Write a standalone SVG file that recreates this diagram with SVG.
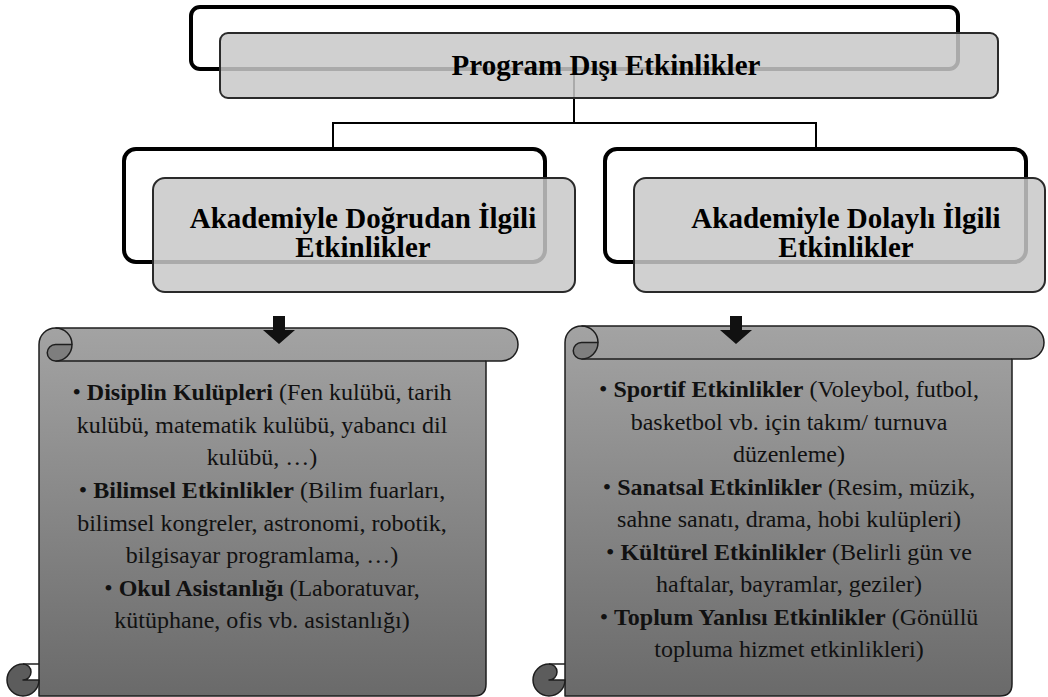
<svg xmlns="http://www.w3.org/2000/svg" width="1048" height="697" viewBox="0 0 1048 697">
<style>
.back{fill:#ffffff;stroke:#000;stroke-width:4}
.front{fill:#c8c8c8;fill-opacity:0.85;stroke:#2a2a2a;stroke-width:2}
.conn{fill:none;stroke:#000;stroke-width:2}
.head{font-family:"Liberation Serif","Times New Roman",serif;font-weight:bold;font-size:29px;fill:#000;text-anchor:middle}
.body{font-family:"Liberation Serif","Times New Roman",serif;font-size:24px;fill:#111;text-anchor:middle}
.b{font-weight:bold}
.sc{stroke:#1e1e1e;stroke-width:1.5;stroke-linejoin:round}
.scl{fill:none;stroke:#1e1e1e;stroke-width:1.5}
.arrow{fill:#111}
</style>
<defs>
<linearGradient id="g" x1="0" y1="0" x2="0" y2="1">
<stop offset="0" stop-color="#a3a3a3"/>
<stop offset="1" stop-color="#6a6a6a"/>
</linearGradient>
</defs>

<g id="connectors">
<path class="conn" d="M574,69 V123 M333,148 V123 H816 V148"/>
</g>

<g id="node-top">
<rect class="back" x="191" y="7" width="767" height="62" rx="9"/>
<rect class="front" x="220" y="33" width="778" height="65" rx="8"/>
<text class="head" x="606" y="75">Program Dışı Etkinlikler</text>
</g>

<g id="node-left">
<rect class="back" x="124" y="149" width="421" height="113" rx="12"/>
<rect class="front" x="153" y="178" width="422" height="114" rx="12"/>
<text class="head" x="363" y="228">Akademiyle Doğrudan İlgili</text>
<text class="head" x="363" y="257">Etkinlikler</text>
</g>

<g id="node-right">
<rect class="back" x="605" y="149" width="421" height="113" rx="12"/>
<rect class="front" x="634" y="178" width="411" height="114" rx="12"/>
<text class="head" x="846" y="228">Akademiyle Dolaylı İlgili</text>
<text class="head" x="846" y="257">Etkinlikler</text>
</g>

<g id="scroll-left">
<path class="sc" fill="url(#g)" d="M39,344.5 A16.5,16.5 0 0 1 55.5,328 L501.5,328 A16.5,16.5 0 0 1 501.5,361 L486,361 L486,684 Q486,696 474,696 L39,696 Z"/>
<path class="scl" d="M55.5,361 L486,361 M55.5,328 A16.5,16.5 0 0 1 72,344.5"/>
<path class="sc" fill="#7e7e7e" d="M55.5,344.5 L72,344.5 A16.5,16.5 0 0 1 55.5,361 A8.25,8.25 0 0 1 55.5,344.5 Z"/>
<path class="sc" fill="#5c5c5c" d="M23,664 A16,16 0 1 0 39,680 L23,680 A8,8 0 0 0 23,664 Z"/>
<path class="scl" d="M23,664 L39,664"/>
<path class="arrow" d="M273,316 H285 V330 H295 L279,344 L263,330 H273 Z"/>
<text class="body" x="262" y="400">• <tspan class="b">Disiplin Kulüpleri</tspan> (Fen kulübü, tarih</text>
<text class="body" x="262" y="432.5">kulübü, matematik kulübü, yabancı dil</text>
<text class="body" x="262" y="465">kulübü, …)</text>
<text class="body" x="262" y="498">• <tspan class="b">Bilimsel Etkinlikler</tspan> (Bilim fuarları,</text>
<text class="body" x="262" y="530.5">bilimsel kongreler, astronomi, robotik,</text>
<text class="body" x="262" y="563">bilgisayar programlama, …)</text>
<text class="body" x="262" y="595.5">• <tspan class="b">Okul Asistanlığı</tspan> (Laboratuvar,</text>
<text class="body" x="262" y="628">kütüphane, ofis vb. asistanlığı)</text>
</g>

<g id="scroll-right">
<path class="sc" fill="url(#g)" d="M565,342.5 A16.5,16.5 0 0 1 581.5,326 L1027.5,326 A16.5,16.5 0 0 1 1027.5,359 L1012,359 L1012,684 Q1012,696 1000,696 L565,696 Z"/>
<path class="scl" d="M581.5,359 L1012,359 M581.5,326 A16.5,16.5 0 0 1 598,342.5"/>
<path class="sc" fill="#7e7e7e" d="M581.5,342.5 L598,342.5 A16.5,16.5 0 0 1 581.5,359 A8.25,8.25 0 0 1 581.5,342.5 Z"/>
<path class="sc" fill="#5c5c5c" d="M549,664 A16,16 0 1 0 565,680 L549,680 A8,8 0 0 0 549,664 Z"/>
<path class="scl" d="M549,664 L565,664"/>
<path class="arrow" d="M730,316 H742 V330 H752 L736,344 L720,330 H730 Z"/>
<text class="body" x="789" y="397">• <tspan class="b">Sportif Etkinlikler</tspan> (Voleybol, futbol,</text>
<text class="body" x="789" y="429.5">basketbol vb. için takım/ turnuva</text>
<text class="body" x="789" y="462">düzenleme)</text>
<text class="body" x="789" y="494.5">•  <tspan class="b">Sanatsal Etkinlikler</tspan> (Resim, müzik,</text>
<text class="body" x="789" y="527">sahne sanatı, drama, hobi kulüpleri)</text>
<text class="body" x="789" y="559.5">• <tspan class="b">Kültürel Etkinlikler</tspan> (Belirli gün ve</text>
<text class="body" x="789" y="592">haftalar, bayramlar, geziler)</text>
<text class="body" x="789" y="624.5">• <tspan class="b">Toplum Yanlısı Etkinlikler</tspan> (Gönüllü</text>
<text class="body" x="789" y="657">topluma hizmet etkinlikleri)</text>
</g>
</svg>
